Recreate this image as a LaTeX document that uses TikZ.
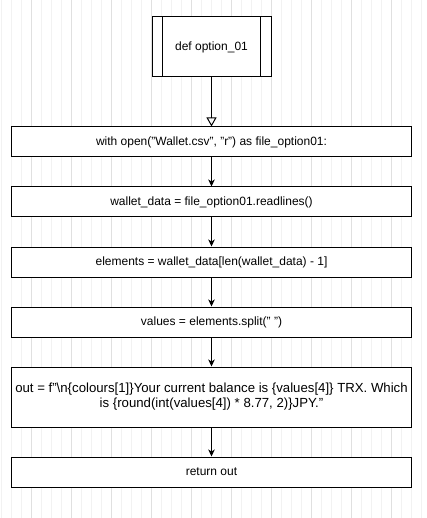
\documentclass[tikz,border=0pt]{standalone}
\usepackage{fontspec}
\setmainfont{Liberation Sans}
\usetikzlibrary{positioning}
\usetikzlibrary{arrows.meta}

\tikzset{
  stepbox/.style={draw=black,line width=1pt,fill=white,minimum width=400pt,minimum height=30pt,
    inner sep=0pt,align=center,font=\fontsize{12}{15}\selectfont},
  flow/.style={line width=1pt,-{Stealth[length=7pt,width=6.5pt,inset=2pt]}}
}

\begin{document}
\begin{tikzpicture}[x=1pt,y=-1pt]
 \useasboundingbox (0,0) rectangle (427,518);
 \clip (0,0) rectangle (427,518);
 % background grid
 \draw[shift={(1.5,7)},step=10,color=black!5,line width=0.6pt](-10,-10) grid (430,520);
 \draw[shift={(31.5,37)},step=40,color=black!12,line width=0.8pt](-40,-40) grid (400,490);
 % boxes
 \node[stepbox,minimum width=119pt,minimum height=60pt] (def) at (211.5,47) {def option\_01};
 \draw[line width=1pt] ([xshift=11pt]def.north west) -- ([xshift=11pt]def.south west);
 \draw[line width=1pt] ([xshift=-11pt]def.north east) -- ([xshift=-11pt]def.south east);
 \node[stepbox] (withopen) at (211.5,142) {with open("Wallet.csv", "r") as file\_option01:};
 \node[stepbox] (readlines) at (211.5,202) {wallet\_data = file\_option01.readlines()};
 \node[stepbox] (elements) at (211.5,262) {elements = wallet\_data[len(wallet\_data) - 1]};
 \node[stepbox] (values) at (211.5,322) {values = elements.split(" ")};
 \node[stepbox,minimum height=60pt,font=\fontsize{13.2}{15}\selectfont] (out) at (211.5,397)
   {out = f"\textbackslash n\{colours[1]\}Your current balance is \{values[4]\} TRX. Which\\
    is \{round(int(values[4]) * 8.77, 2)\}JPY."};
 \node[stepbox] (return) at (211.5,472) {return out};
 % connectors
 \draw[line width=1pt,-{Triangle[open,length=9pt,width=10pt]}] (def) -- (withopen);
 \draw[flow] (withopen) -- (readlines);
 \draw[flow] (readlines) -- (elements);
 \draw[flow] (elements) -- (values);
 \draw[flow] (values) -- (out);
 \draw[flow] (out) -- (return);
\end{tikzpicture}
\end{document}
